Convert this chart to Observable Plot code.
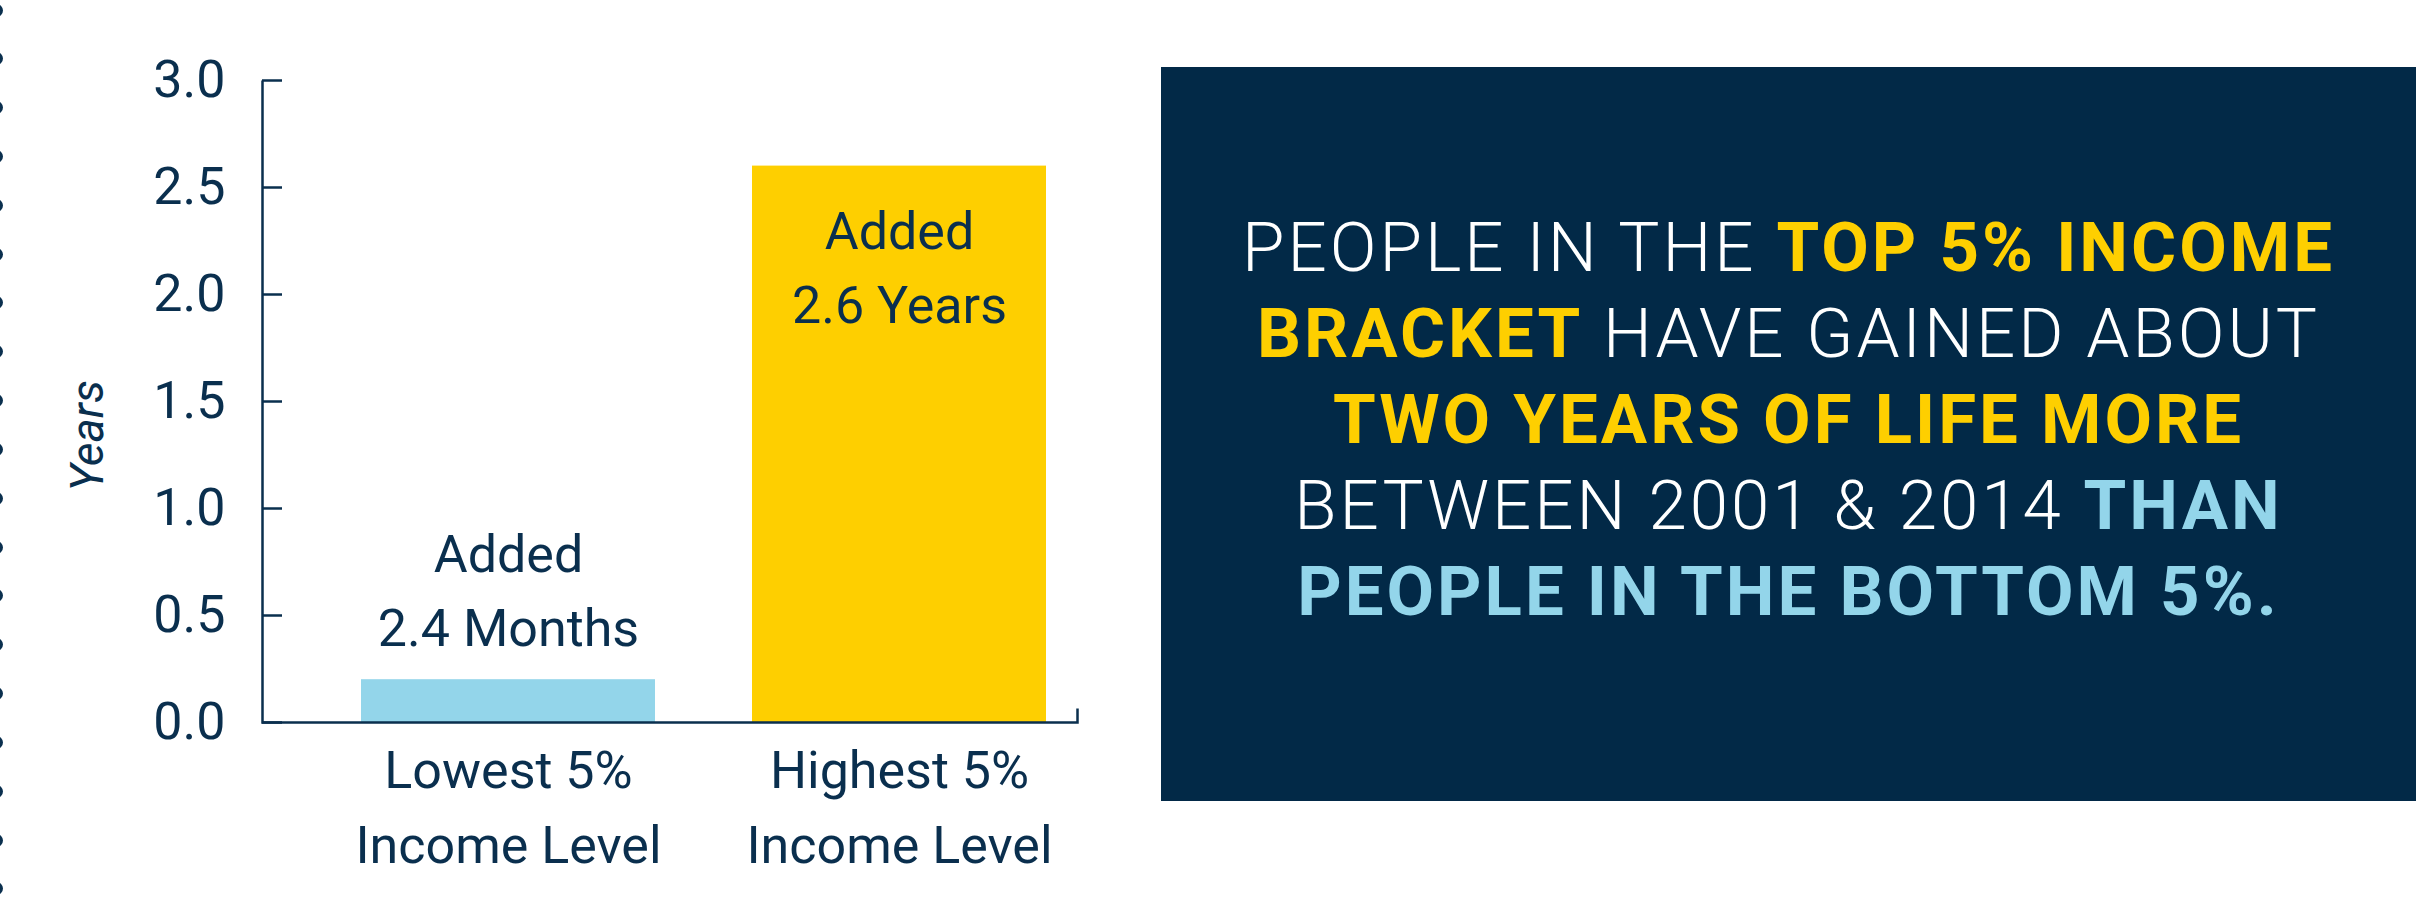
<!DOCTYPE html>
<html><head><meta charset="utf-8">
<script src="https://cdn.jsdelivr.net/npm/d3@7"></script>
<script src="https://cdn.jsdelivr.net/npm/@observablehq/plot@0.6"></script>
<style>
html,body{margin:0;padding:0;background:#fff;width:2419px;height:924px;overflow:hidden;position:relative}
#chart{position:absolute;left:0;top:0}
.dot{position:absolute;width:13px;height:13px;border-radius:50%;background:#0a2f4e;left:-10px}
#panel{position:absolute;left:1161px;top:67px;width:1255px;height:734px;background:#022947}
#panelText{position:absolute;left:0;right:0;top:138px;text-align:center;font-family:Roboto,sans-serif;font-size:69px;line-height:86px;letter-spacing:3px;color:#fff;font-weight:300;white-space:nowrap}
#panelText .y{color:#fecf00;font-weight:700}
#panelText .b{color:#93d5ea;font-weight:700}
#panelText .w{color:#ffffff}
</style></head>
<body>
<div id="chart"></div>
<div id="panel"><div id="panelText"></div></div>
<script>
const categories = ["Lowest 5%\nIncome Level", "Highest 5%\nIncome Level"];
const years = [0.2, 2.6];
const barLabels = ["Added\n2.4 Months", "Added\n2.6 Years"];
const yTicks = [0, 0.5, 1, 1.5, 2, 2.5, 3];
const yLabel = "Years";
const panelLines = [
  [["PEOPLE IN THE ", "w"], ["TOP 5% INCOME", "y"]],
  [["BRACKET", "y"], [" HAVE GAINED ABOUT", "w"]],
  [["TWO YEARS OF LIFE MORE", "y"]],
  [["BETWEEN 2001 & 2014 ", "w"], ["THAN", "b"]],
  [["PEOPLE IN THE BOTTOM 5%.", "b"]]
];

const navy = "#0a2f4e";
const data = categories.map((c, i) => ({category: c, value: years[i], label: barLabels[i]}));

const chart = Plot.plot({
  width: 1140, height: 924,
  marginLeft: 262, marginRight: 63, marginTop: 80, marginBottom: 202,
  style: {fontFamily: "Roboto, sans-serif", fontSize: "52px", color: navy, background: "transparent", overflow: "visible"},
  x: {domain: categories, paddingInner: 0.248, paddingOuter: 0.166, align: 0.76},
  y: {domain: [0, 3]},
  color: {domain: categories, range: ["#93d5ea", "#fecf00"]},
  marks: [
    Plot.barY(data, {x: "category", y: "value", fill: "category"}),
    Plot.frame({stroke: navy, strokeWidth: 2.5, strokeDasharray: "0 1443 1471"}),
    Plot.axisY({ticks: yTicks, tickSize: -20, tickPadding: 57, tickFormat: d3.format(".1f"), label: null, strokeWidth: 2.5}),
    Plot.axisX({tickSize: 0, tickPadding: 12, label: null, lineHeight: 75 / 52}),
    Plot.text(data.slice(0, 1), {x: "category", y: "value", text: "label", lineAnchor: "bottom", dy: -34, lineHeight: 74 / 52, fill: navy}),
    Plot.text(data.slice(1), {x: "category", y: "value", text: "label", lineAnchor: "bottom", dy: 157, lineHeight: 74 / 52, fill: navy}),
    Plot.text([yLabel], {text: d => d, frameAnchor: "left", dx: -174, dy: 90, rotate: -90, fontStyle: "italic", fontSize: 46, fill: navy})
  ]
});
document.getElementById("chart").append(chart);

for (let k = 0; k < 19; k++) {
  const d = document.createElement("div");
  d.className = "dot";
  d.style.top = (10 + k * 48.83 - 6.5) + "px";
  document.body.append(d);
}

const pt = document.getElementById("panelText");
panelLines.forEach(line => {
  const div = document.createElement("div");
  line.forEach(([t, cls]) => {
    const s = document.createElement("span");
    s.className = cls;
    s.textContent = t;
    div.append(s);
  });
  pt.append(div);
});
</script>
</body></html>
